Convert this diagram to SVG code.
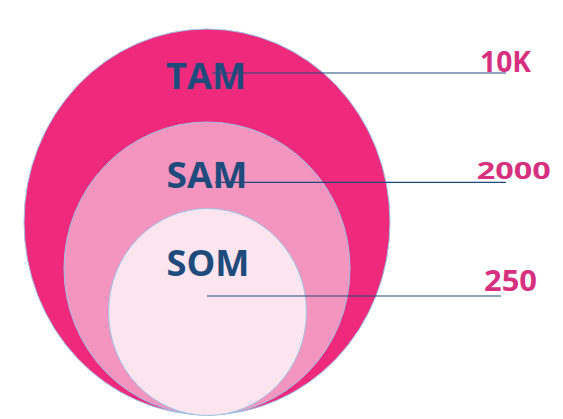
<svg xmlns="http://www.w3.org/2000/svg" width="563" height="419" viewBox="0 0 563 419">
<style>
.ring{stroke:#9DC3E6;stroke-width:1}
.lbl{font-family:"Open Sans","Noto Sans","Liberation Sans",sans-serif;font-weight:bold;font-size:36px;fill:#1F4A7C}
.val{font-family:"Open Sans","Noto Sans","Liberation Sans",sans-serif;font-weight:bold;font-size:28px;fill:#D6307F}
.conn line{stroke:#1F4A7C;stroke-width:1.2}
</style>
<rect width="563" height="419" fill="#FFFFFF"/>
<g id="tam">
<ellipse class="ring" cx="207" cy="222" rx="183" ry="193" fill="#EF2A7C"/>
<text class="lbl" x="166" y="89" textLength="80" lengthAdjust="spacingAndGlyphs">TAM</text>
</g>
<g id="sam">
<ellipse class="ring" cx="207" cy="268.5" rx="143" ry="146.5" fill="#F395BE"/>
<text class="lbl" x="166.5" y="187.5" textLength="81" lengthAdjust="spacingAndGlyphs">SAM</text>
</g>
<g id="som">
<ellipse class="ring" cx="207.5" cy="312" rx="99" ry="103.5" fill="#FCE5EE"/>
<text class="lbl" x="166.5" y="276" textLength="83" lengthAdjust="spacingAndGlyphs">SOM</text>
</g>
<g id="v10k"><text class="val" x="480" y="72.3" textLength="51" lengthAdjust="spacingAndGlyphs">10K</text></g>
<g id="v2000"><text class="val" x="476.7" y="179.3" style="font-size:24px" textLength="74" lengthAdjust="spacingAndGlyphs">2000</text></g>
<g id="v250"><text class="val" x="484" y="291" textLength="53" lengthAdjust="spacingAndGlyphs">250</text></g>
<g id="connectors" class="conn">
<line x1="212" y1="73" x2="506" y2="73"/>
<line x1="215" y1="182.3" x2="506" y2="182.3"/>
<line x1="207" y1="296" x2="501" y2="296"/>
</g>
</svg>
